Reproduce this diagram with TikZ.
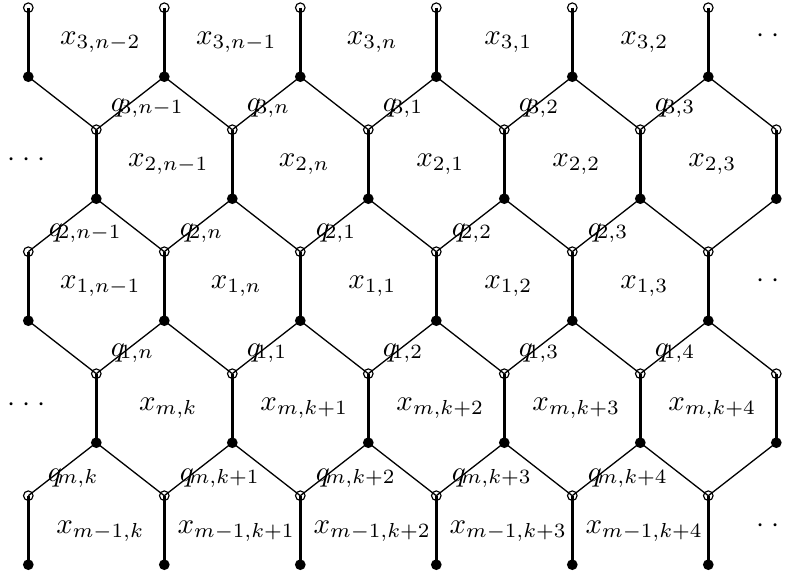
\documentclass[tikz,border=0pt]{standalone}
\newcommand{\xs}[1]{x_{#1}}
\newcommand{\qs}[1]{q\kern-1.7pt\lower0.7pt\hbox{$\scriptstyle #1$}}
\newcommand{\mydots}{${\cdot}\kern2.4pt{\cdot}\kern2.4pt{\cdot}$}
\begin{document}
\begin{tikzpicture}[x=0.345pt,y=-0.345pt,
  thickedge/.style={line width=1.2pt},
  thinedge/.style={line width=0.45pt},
  blackdot/.style={circle,fill=black,inner sep=0pt,minimum size=3.7pt},
  opendot/.style={circle,draw=black,line width=0.4pt,inner sep=0pt,minimum size=3.3pt},
  xlab/.style={inner sep=0pt},
  qlab/.style={inner sep=0pt,anchor=base west},
  dotslab/.style={inner sep=0pt}]
\useasboundingbox (0,0) rectangle (788,581);
% lattice points
\foreach \lv/\yy/\s in {0/7.7/0,1/76.7/0,2/129.7/1,3/198.7/1,4/251.7/0,5/320.7/0,6/373.7/1,7/442.7/1,8/495.7/0,9/564.7/0}{
  \foreach \k in {0,...,5}{
    \pgfmathtruncatemacro\c{2*\k+\s}
    \coordinate (p\lv-\c) at ({28.3+68*\c},\yy);
  }
}
% thick vertical edges
\foreach \a/\b/\s in {0/1/0,2/3/1,4/5/0,6/7/1,8/9/0}{
  \foreach \k in {0,...,5}{
    \pgfmathtruncatemacro\c{2*\k+\s}
    \draw[thickedge] (p\a-\c) -- (p\b-\c);
  }
}
% thin diagonal edges
\foreach \a/\b/\s in {1/2/0,3/4/1,5/6/0,7/8/1}{
  \foreach \k in {0,...,5}{
    \pgfmathtruncatemacro\c{2*\k+\s}
    \pgfmathtruncatemacro\lc{\c-1}
    \pgfmathtruncatemacro\rc{\c+1}
    \ifnum\lc>-1 \draw[thinedge] (p\a-\c) -- (p\b-\lc); \fi
    \ifnum\rc<12 \draw[thinedge] (p\a-\c) -- (p\b-\rc); \fi
  }
}
% vertices
\foreach \lv/\s in {0/0,2/1,4/0,6/1,8/0}{
  \foreach \k in {0,...,5}{
    \pgfmathtruncatemacro\c{2*\k+\s}
    \node[opendot] (o\lv-\c) at (p\lv-\c) {};
  }
}
\foreach \lv/\s in {1/0,3/1,5/0,7/1,9/0}{
  \foreach \k in {0,...,5}{
    \pgfmathtruncatemacro\c{2*\k+\s}
    \node[blackdot] (b\lv-\c) at (p\lv-\c) {};
  }
}
% x labels
\foreach \c/\t in {1/{3,n-2},3/{3,n-1},5/{3,n},7/{3,1},9/{3,2}}
  \node[xlab] (xa-\c) at ({32.3+68*\c},42) {$\xs{\t}$};
\foreach \c/\t in {2/{2,n-1},4/{2,n},6/{2,1},8/{2,2},10/{2,3}}
  \node[xlab] (xb-\c) at ({32.3+68*\c},164) {$\xs{\t}$};
\foreach \c/\t in {1/{1,n-1},3/{1,n},5/{1,1},7/{1,2},9/{1,3}}
  \node[xlab] (xc-\c) at ({32.3+68*\c},286) {$\xs{\t}$};
\foreach \c/\t in {2/{m,k},4/{m,k+1},6/{m,k+2},8/{m,k+3},10/{m,k+4}}
  \node[xlab] (xd-\c) at ({32.3+68*\c},408) {$\xs{\t}$};
\foreach \c/\t in {1/{m-1,k},3/{m-1,k+1},5/{m-1,k+2},7/{m-1,k+3},9/{m-1,k+4}}
  \node[xlab] (xe-\c) at ({32.3+68*\c},531) {$\xs{\t}$};
% q labels
\foreach \c/\t/\dx in {1/{3,n-1}/14,3/{3,n}/14,5/{3,1}/14,7/{3,2}/14,9/{3,3}/14}
  \node[qlab] (qa-\c) at ([shift={(\dx,-18)}]p2-\c) {$\qs{\t}$};
\foreach \c/\t/\dx in {0/{2,n-1}/20,2/{2,n}/15,4/{2,1}/15,6/{2,2}/15,8/{2,3}/15}
  \node[qlab] (qb-\c) at ([shift={(\dx,-15)}]p4-\c) {$\qs{\t}$};
\foreach \c/\t/\dx in {1/{1,n}/14,3/{1,1}/14,5/{1,2}/14,7/{1,3}/14,9/{1,4}/14}
  \node[qlab] (qc-\c) at ([shift={(\dx,-17)}]p6-\c) {$\qs{\t}$};
\foreach \c/\t/\dx in {0/{m,k}/19,2/{m,k+1}/15,4/{m,k+2}/15,6/{m,k+3}/15,8/{m,k+4}/15}
  \node[qlab] (qd-\c) at ([shift={(\dx,-14)}]p8-\c) {$\qs{\t}$};
% continuation dots
\node[dotslab] (dl1) at (27,160) {\mydots};
\node[dotslab] (dl2) at (27,405) {\mydots};
\node[dotslab,anchor=west] (dr1) at (756,36) {\mydots};
\node[dotslab,anchor=west] (dr2) at (756,281) {\mydots};
\node[dotslab,anchor=west] (dr3) at (756,526) {\mydots};
\end{tikzpicture}
\end{document}
